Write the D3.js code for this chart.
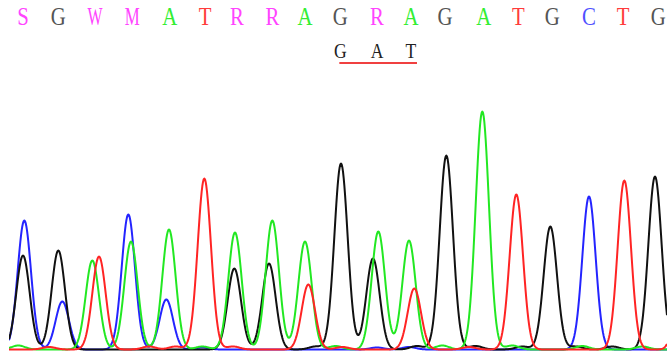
<!DOCTYPE html>
<html>
<head>
<meta charset="utf-8">
<script src="https://cdn.jsdelivr.net/npm/d3@7"></script>
<style>
  html, body { margin: 0; padding: 0; background: #fff; }
  svg { display: block; }
</style>
</head>
<body>
<div id="chart"></div>
<script>
// base calls along the top (position in scan points)
const baseCalls = ["S","G","W","M","A","T","R","R","A","G","R","A","G","A","T","G","C","T","G"];
const basePos   = [21, 74, 129, 185, 241, 294, 342, 395, 444, 497, 552, 603, 654, 712, 764, 815, 870, 921, 974];
const codon = ["G","A","T"];
const codonStart = 9; // index into baseCalls

// peaks per dye channel: scan position and signal (RFU)
const blueScan  = [23, 80, 179, 236, 870, 552, 600, 290];
const blueRFU   = [1290, 480, 1350, 500, 1530, 20, 25, 20];
const blackScan = [21, 74, 338, 390, 498, 546, 656, 812, 969, 460, 612, 700, 770, 850, 905];
const blackRFU  = [940, 990, 810, 860, 1860, 910, 1940, 1230, 1730, 30, 35, 35, 30, 30, 30];
const greenScan = [125, 183, 240, 339, 395, 444, 554, 600, 710, 14, 290, 490, 650, 755, 860, 950];
const greenRFU  = [890, 1080, 1200, 1170, 1290, 1080, 1180, 1090, 2380, 40, 30, 35, 40, 40, 35, 30];
const redScan   = [135, 293, 449, 608, 761, 923, 1011, 60, 210, 250, 336, 500, 690];
const redRFU    = [930, 1710, 650, 610, 1550, 1690, 1000, 25, 30, 30, 30, 25, 25];

const width = 667, height = 356;
const peakSigma = 10; // scan points

const x = d3.scaleLinear().domain([0, 987]).range([9, 667]);
const y = d3.scaleLinear().domain([0, 2400]).range([349.5, 109.5]);

const channels = [
  { color: "#2424ff", scan: blueScan,  rfu: blueRFU },
  { color: "#111111", scan: blackScan, rfu: blackRFU },
  { color: "#22e822", scan: greenScan, rfu: greenRFU },
  { color: "#ff2424", scan: redScan,   rfu: redRFU }
];

function trace(ch) {
  const pts = [];
  for (let s = 0; s <= 987; s += 1) {
    let v = 0;
    ch.scan.forEach((p, i) => {
      const d = (s - p) / peakSigma;
      v += ch.rfu[i] * Math.exp(-0.5 * d * d);
    });
    pts.push([s, v]);
  }
  return pts;
}

const svg = d3.select("#chart").append("svg")
  .attr("width", width)
  .attr("height", height);

svg.append("defs").append("clipPath").attr("id", "plot")
  .append("rect").attr("x", x(0)).attr("y", 0)
  .attr("width", x(987) - x(0)).attr("height", height);

const line = d3.line().x(d => x(d[0])).y(d => y(d[1]));

const traces = svg.append("g").attr("clip-path", "url(#plot)");
traces.selectAll("path")
  .data(channels)
  .join("path")
  .attr("d", d => line(trace(d)))
  .attr("fill", "none")
  .attr("stroke", d => d.color)
  .attr("stroke-width", 2)
  .attr("stroke-linejoin", "round");

// serif letters squeezed to a courier-like width
const letterFont = "'Liberation Serif', 'Times New Roman', serif";
function squeeze(sel, maxW) {
  sel.each(function() {
    const w = this.getComputedTextLength();
    const t = Math.min(w * 0.8, maxW);
    d3.select(this).attr("textLength", t).attr("lengthAdjust", "spacingAndGlyphs");
  });
}

const baseColor = { A: "#33ee33", C: "#5050ff", G: "#555555", T: "#ff3b3b" };
svg.append("g")
  .selectAll("text")
  .data(baseCalls)
  .join("text")
  .attr("x", (d, i) => x(basePos[i]))
  .attr("y", 25)
  .attr("text-anchor", "middle")
  .attr("font-family", letterFont)
  .attr("font-size", 26)
  .attr("fill", d => baseColor[d] || "#ff44ff")
  .text(d => d)
  .call(squeeze, 15);

const codonG = svg.append("g");
codonG.selectAll("text")
  .data(codon)
  .join("text")
  .attr("x", (d, i) => x(basePos[codonStart + i]))
  .attr("y", 58)
  .attr("text-anchor", "middle")
  .attr("font-family", letterFont)
  .attr("font-size", 22)
  .attr("fill", "#222")
  .text(d => d)
  .call(squeeze, 13);

codonG.append("line")
  .attr("x1", x(basePos[codonStart]) - 1)
  .attr("x2", x(basePos[codonStart + 2]) + 6)
  .attr("y1", 63).attr("y2", 63)
  .attr("stroke", "#f04040")
  .attr("stroke-width", 2);
</script>
</body>
</html>
